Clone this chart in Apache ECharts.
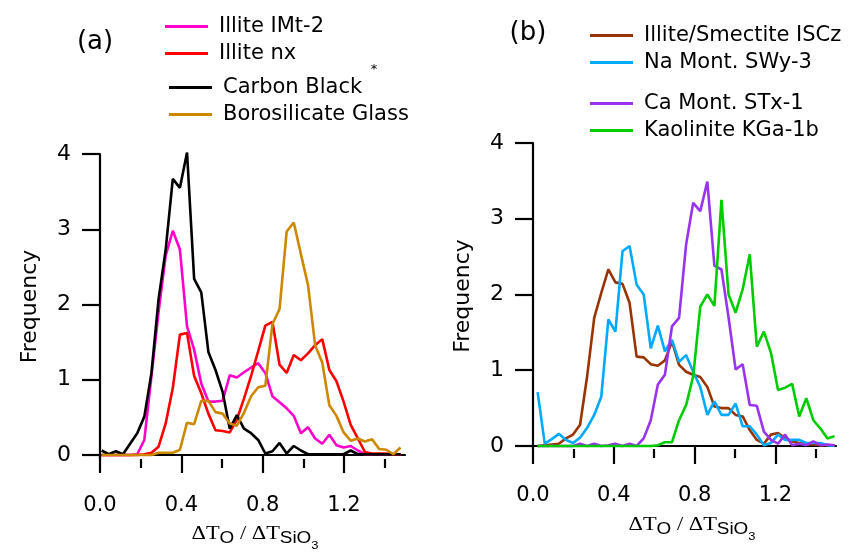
<!DOCTYPE html>
<html>
<head>
<meta charset="utf-8">
<script src="https://cdn.jsdelivr.net/npm/echarts@6/dist/echarts.min.js"></script>
<style>
  html, body { margin: 0; padding: 0; background: #fff; }
  #chart { width: 850px; height: 555px; }
</style>
</head>
<body>
<div id="chart"></div>
<script>
// Bin centres of the ΔT_O / ΔT_SiO3 histograms
const binsA = [0.008, 0.043, 0.078, 0.113, 0.148, 0.183, 0.218, 0.253, 0.288, 0.323,
  0.358, 0.393, 0.428, 0.463, 0.498, 0.533, 0.568, 0.603, 0.638, 0.673,
  0.708, 0.743, 0.778, 0.813, 0.848, 0.883, 0.918, 0.953, 0.988, 1.023,
  1.058, 1.093, 1.128, 1.163, 1.198, 1.233, 1.268, 1.303, 1.338, 1.373,
  1.408, 1.443, 1.478];
const binsB = [0.023, 0.058, 0.093, 0.128, 0.163, 0.198, 0.233, 0.268, 0.303, 0.338,
  0.373, 0.408, 0.443, 0.478, 0.513, 0.548, 0.583, 0.618, 0.653, 0.688,
  0.723, 0.758, 0.793, 0.828, 0.863, 0.898, 0.933, 0.968, 1.003, 1.038,
  1.073, 1.108, 1.143, 1.178, 1.213, 1.248, 1.283, 1.318, 1.353, 1.388,
  1.423, 1.458, 1.493];

// Panel (a) frequencies
const illiteIMt2 = [0, 0, 0, 0, 0, 0.01, 0.2, 1.05, 1.9, 2.65,
  2.98, 2.73, 1.71, 1.4, 0.95, 0.71, 0.71, 0.72, 1.06, 1.03,
  1.1, 1.16, 1.22, 1.09, 0.78, 0.7, 0.62, 0.52, 0.29, 0.37,
  0.22, 0.15, 0.27, 0.13, 0.1, 0.12, 0.06, 0.01, 0.01, 0.01,
  0.01, 0.01, 0.01];
const illiteNx = [0, 0, 0, 0, 0, 0, 0.01, 0.03, 0.11, 0.42,
  0.89, 1.6, 1.62, 1.05, 0.82, 0.55, 0.33, 0.32, 0.3, 0.47,
  0.75, 1.05, 1.38, 1.72, 1.77, 1.2, 1.09, 1.33, 1.26, 1.35,
  1.46, 1.54, 1.13, 0.98, 0.71, 0.4, 0.22, 0.04, 0.02, 0.02,
  0.02, 0.01, 0.01];
const carbonBlack = [0.06, 0.01, 0.05, 0.01, 0.15, 0.29, 0.51, 1.09, 2.07, 2.73,
  3.67, 3.55, 4.02, 2.34, 2.16, 1.37, 1.13, 0.84, 0.35, 0.53,
  0.35, 0.29, 0.2, 0.02, 0.05, 0.16, 0.02, 0.12, 0.06, 0.01,
  0.01, 0.01, 0.01, 0.01, 0.01, 0.06, 0.01, 0.01, 0.01, 0.01,
  0.01, 0.01, 0.01];
const borosilicate = [0, 0, 0, 0, 0, 0, 0, 0, 0.03, 0.03,
  0.03, 0.07, 0.43, 0.41, 0.72, 0.72, 0.57, 0.55, 0.42, 0.39,
  0.56, 0.78, 0.9, 0.92, 1.74, 1.94, 2.97, 3.09, 2.67, 2.26,
  1.46, 1.23, 0.66, 0.52, 0.3, 0.19, 0.22, 0.18, 0.21, 0.08,
  0.07, 0.01, 0.1];

// Panel (b) frequencies
const illiteSmectite = [0, 0.01, 0.02, 0.03, 0.1, 0.15, 0.28, 0.92, 1.69, 2.02,
  2.33, 2.16, 2.14, 1.89, 1.18, 1.17, 1.08, 1.06, 1.13, 1.38,
  1.07, 0.98, 0.94, 0.91, 0.78, 0.52, 0.5, 0.5, 0.41, 0.39,
  0.21, 0.08, 0.03, 0.15, 0.17, 0.1, 0.06, 0.04, 0.02, 0.02,
  0.01, 0.01, 0.01];
const naMont = [0.71, 0.03, 0.09, 0.16, 0.08, 0.04, 0.11, 0.24, 0.41, 0.65,
  1.67, 1.51, 2.57, 2.64, 2.13, 2.0, 1.29, 1.59, 1.25, 1.4,
  1.11, 1.2, 0.98, 0.78, 0.41, 0.59, 0.41, 0.41, 0.56, 0.26,
  0.26, 0.15, 0.01, 0.04, 0.15, 0.08, 0.08, 0.08, 0.04, 0.04,
  0.04, 0.01, 0];
const caMont = [0, 0, 0, 0, 0, 0, 0.03, 0, 0.03, 0,
  0.01, 0.03, 0, 0.03, 0, 0.1, 0.34, 0.81, 0.94, 1.58,
  1.69, 2.66, 3.21, 3.1, 3.49, 2.38, 2.33, 1.7, 1.01, 1.08,
  0.54, 0.53, 0.19, 0.08, 0.03, 0.15, 0.01, 0.03, 0.01, 0.06,
  0.01, 0.02, 0.01];
const kaolinite = [0, 0, 0, 0, 0, 0, 0, 0, 0, 0,
  0, 0, 0, 0, 0, 0, 0, 0.01, 0.05, 0.05,
  0.34, 0.54, 0.92, 1.84, 2.0, 1.85, 3.25, 2.0, 1.76, 2.07,
  2.53, 1.31, 1.51, 1.23, 0.74, 0.77, 0.82, 0.39, 0.63, 0.34,
  0.23, 0.1, 0.13];

// Axis ticks
const xMajorTicks = [0, 0.4, 0.8, 1.2];
const xMinorTicks = [0.2, 0.6, 1.0, 1.4];
const yTicks = [0, 1, 2, 3, 4];

const FONT = 'DejaVu Sans';
const INK = '#000';

function pairs(xs, ys) {
  return xs.map((x, i) => [x, ys[i]]);
}

function xAxesFor(gridIndex, min) {
  const base = { gridIndex, type: 'value', position: 'bottom', min, max: 1.5, splitLine: { show: false } };
  return [
    Object.assign({}, base, {
      axisLine: { show: true, lineStyle: { color: INK, width: 2.2 } },
      axisTick: { show: true, length: 18, customValues: xMajorTicks, lineStyle: { color: INK, width: 2.2 } },
      axisLabel: {
        customValues: xMajorTicks, margin: 36, color: INK, fontFamily: FONT, fontSize: 21,
        formatter: v => Number(v).toFixed(1)
      }
    }),
    Object.assign({}, base, {
      axisLine: { show: false },
      axisTick: { show: true, length: 9, customValues: xMinorTicks, lineStyle: { color: INK, width: 2.2 } },
      axisLabel: { show: false }
    })
  ];
}

function yAxisFor(gridIndex, min, gap) {
  return {
    gridIndex, type: 'value', min, max: 4,
    name: 'Frequency', nameLocation: 'middle', nameRotate: 90, nameGap: gap,
    nameTextStyle: { color: INK, fontFamily: FONT, fontSize: 22 },
    splitLine: { show: false },
    axisLine: { show: true, lineStyle: { color: INK, width: 2.2 } },
    axisTick: { show: true, length: 18, customValues: yTicks, lineStyle: { color: INK, width: 2.2 } },
    axisLabel: { customValues: yTicks, margin: 26, color: INK, fontFamily: FONT, fontSize: 22 }
  };
}

function lineSeries(name, xi, yi, xs, ys, color) {
  return {
    name, type: 'line', xAxisIndex: xi, yAxisIndex: yi,
    data: pairs(xs, ys), symbol: 'none', clip: false,
    lineStyle: { color, width: 2.6 }, itemStyle: { color }
  };
}

function legendAt(names, left, top) {
  return {
    data: names, left, top, orient: 'vertical', selectedMode: false,
    icon: 'rect', itemWidth: 43, itemHeight: 3, itemGap: 6, padding: 0,
    textStyle: { color: INK, fontFamily: FONT, fontSize: 21, padding: [0, 0, 0, 6] }
  };
}

// ΔT_O / ΔT_SiO3 axis caption
function deltaCaption(cx, cy) {
  return {
    type: 'text', x: cx, y: cy, scaleX: 1.18,
    style: {
      x: 0, y: 0, align: 'center', verticalAlign: 'middle',
      text: '{m|ΔT}{s|O}{m| / ΔT}{s|SiO}{t|3}',
      rich: {
        m: { fontFamily: 'Liberation Serif', fontSize: 19, fill: INK },
        s: { fontFamily: 'Liberation Sans', fontSize: 16, fill: INK, padding: [10, 0, 0, 0] },
        t: { fontFamily: 'Liberation Sans', fontSize: 11, fill: INK, padding: [24, 0, 0, 0] }
      }
    }
  };
}

const option = {
  animation: false,
  backgroundColor: '#fff',
  grid: [
    { left: 97, top: 154, width: 308, height: 305 },
    { left: 530, top: 143, width: 306, height: 306 }
  ],
  xAxis: [].concat(xAxesFor(0, -0.0148), xAxesFor(1, -0.0149)),
  yAxis: [yAxisFor(0, -0.053, 56), yAxisFor(1, -0.04, 56)],
  legend: [
    legendAt(['Illite IMt-2', 'Illite nx'], 165, 16),
    legendAt(['Carbon Black', 'Borosilicate Glass'], 169, 77),
    legendAt(['Illite/Smectite ISCz', 'Na Mont. SWy-3'], 590, 25),
    legendAt(['Ca Mont. STx-1', 'Kaolinite KGa-1b'], 590, 93)
  ],
  series: [
    lineSeries('Illite IMt-2', 0, 0, binsA, illiteIMt2, '#ff00cc'),
    lineSeries('Illite nx', 0, 0, binsA, illiteNx, '#ff0000'),
    lineSeries('Carbon Black', 0, 0, binsA, carbonBlack, '#000000'),
    lineSeries('Borosilicate Glass', 0, 0, binsA, borosilicate, '#cc8800'),
    lineSeries('Illite/Smectite ISCz', 2, 1, binsB, illiteSmectite, '#993300'),
    lineSeries('Na Mont. SWy-3', 2, 1, binsB, naMont, '#00aaff'),
    lineSeries('Ca Mont. STx-1', 2, 1, binsB, caMont, '#9933ee'),
    lineSeries('Kaolinite KGa-1b', 2, 1, binsB, kaolinite, '#00cc00')
  ],
  graphic: [
    { type: 'text', x: 95, y: 42, style: { text: '(a)', align: 'center', verticalAlign: 'middle', fontFamily: FONT, fontSize: 26, fill: INK } },
    { type: 'text', x: 528, y: 33, style: { text: '(b)', align: 'center', verticalAlign: 'middle', fontFamily: FONT, fontSize: 26, fill: INK } },
    { type: 'text', x: 374, y: 70, style: { text: '*', align: 'center', verticalAlign: 'middle', fontFamily: FONT, fontSize: 13, fill: INK } },
    deltaCaption(255, 534),
    deltaCaption(692, 525)
  ]
};

const chart = echarts.init(document.getElementById('chart'), null, { renderer: 'canvas' });
chart.setOption(option);
</script>
</body>
</html>
